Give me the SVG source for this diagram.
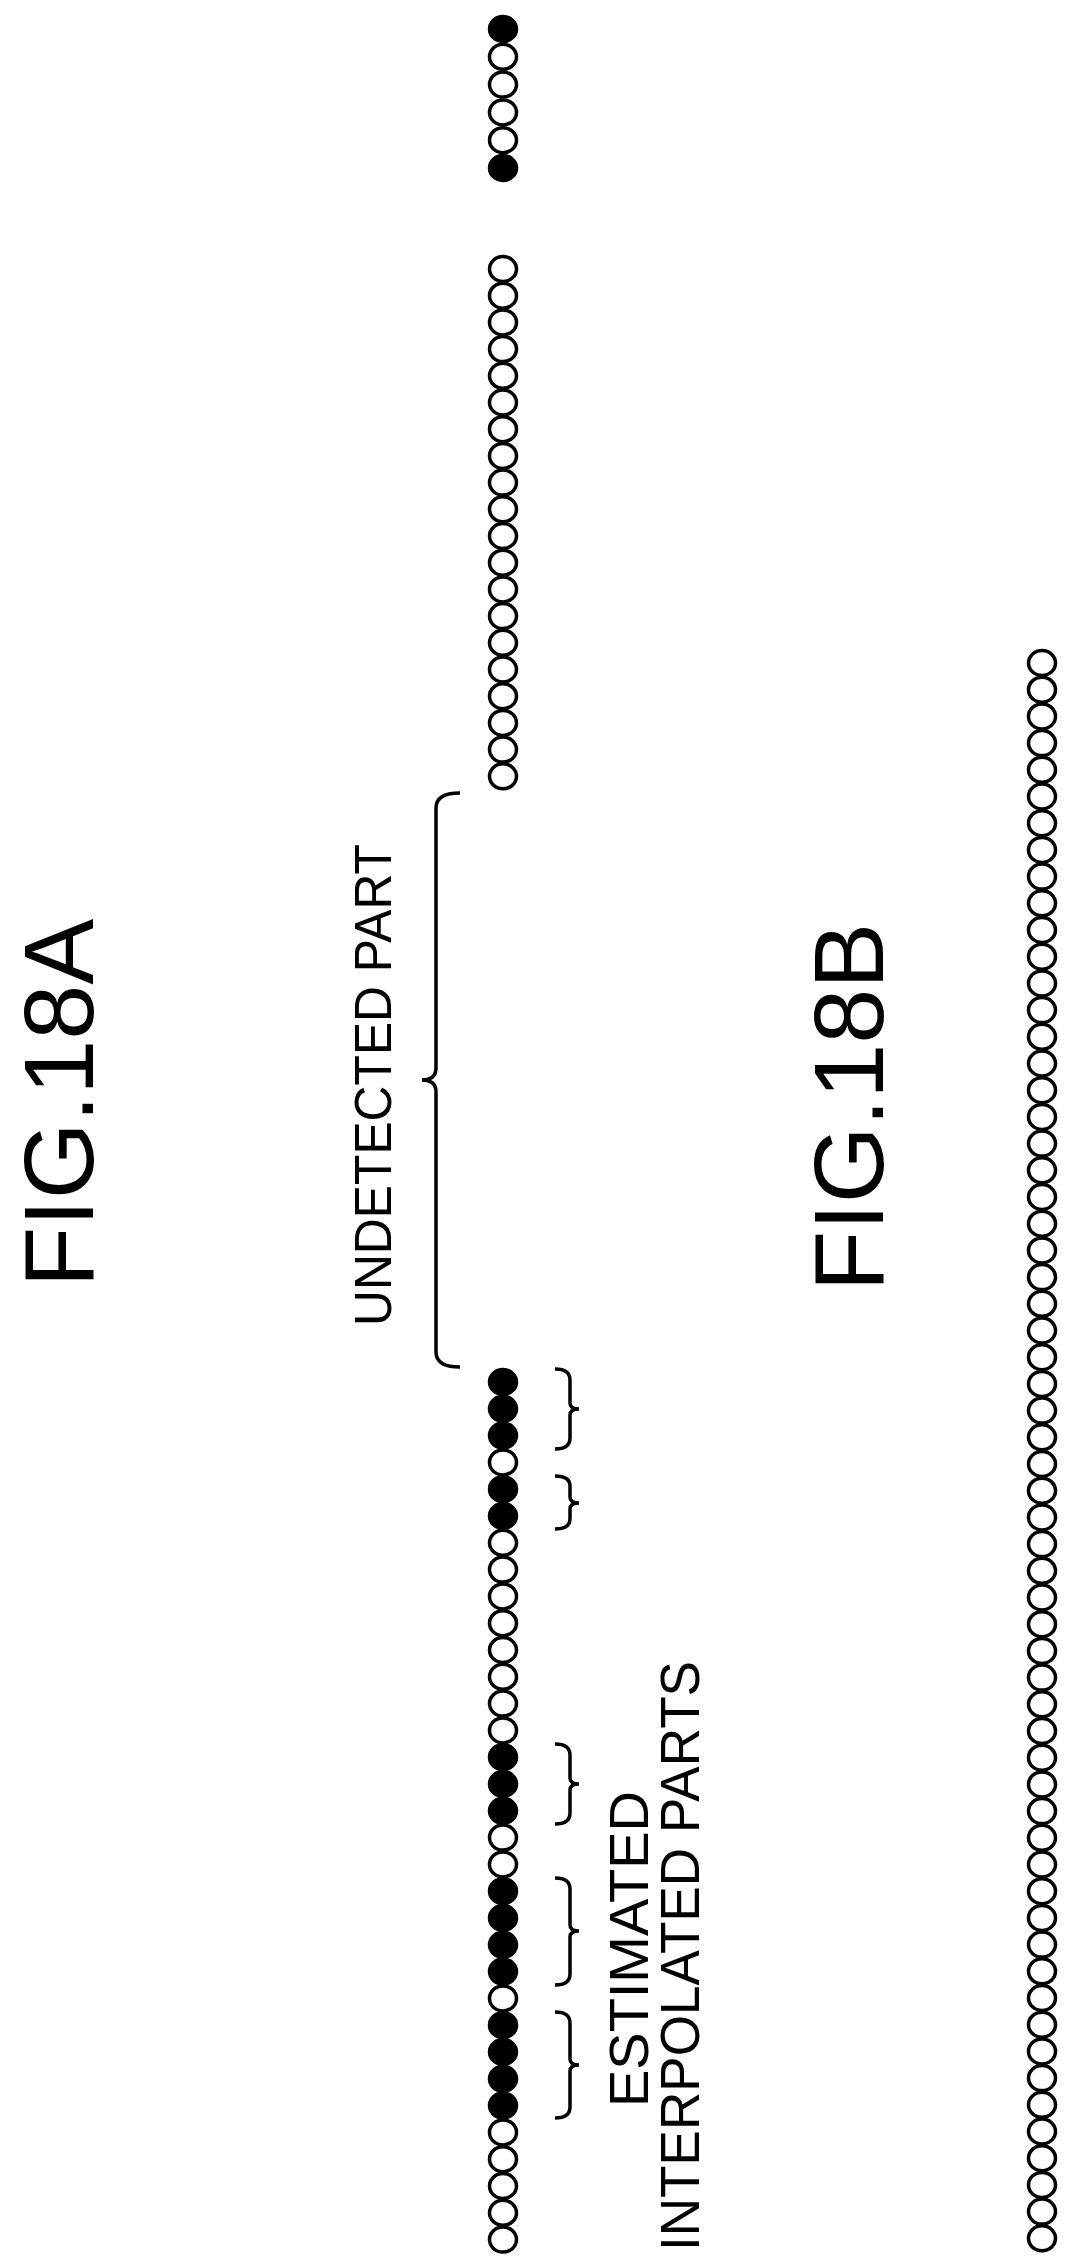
<svg xmlns="http://www.w3.org/2000/svg" xmlns:xlink="http://www.w3.org/1999/xlink" width="1078" height="2257" viewBox="0 0 1078 2257">
<style>
.o{fill:#fff;stroke:#000;stroke-width:3.5}
.f{fill:#000;stroke:#000;stroke-width:3.5}
.br{fill:none;stroke:#000;stroke-width:3.5}
text{font-family:"Liberation Sans",Arial,sans-serif;fill:#000}
</style>
<defs>
<ellipse id="oc" rx="13.5" ry="12.5" class="o"/>
<ellipse id="fc" rx="13.5" ry="12.5" class="f"/>
<g id="ten">
<use xlink:href="#oc" y="0"/><use xlink:href="#oc" y="26.7"/><use xlink:href="#oc" y="53.4"/><use xlink:href="#oc" y="80.1"/><use xlink:href="#oc" y="106.8"/><use xlink:href="#oc" y="133.5"/><use xlink:href="#oc" y="160.2"/><use xlink:href="#oc" y="186.9"/><use xlink:href="#oc" y="213.6"/><use xlink:href="#oc" y="240.3"/>
</g>
</defs>
<rect width="1078" height="2257" fill="#fff"/>
<g id="labels">
<text transform="translate(93,1103) rotate(-90)" text-anchor="middle" font-size="99">FIG.18A</text>
<text transform="translate(883,1107) rotate(-90)" text-anchor="middle" font-size="99">FIG.18B</text>
<text transform="translate(391,1085) rotate(-90)" text-anchor="middle" font-size="52" textLength="482" lengthAdjust="spacingAndGlyphs">UNDETECTED PART</text>
<text transform="translate(648,1949) rotate(-90)" text-anchor="middle" font-size="55" textLength="316" lengthAdjust="spacingAndGlyphs">ESTIMATED</text>
<text transform="translate(699,1956) rotate(-90)" text-anchor="middle" font-size="55" textLength="590" lengthAdjust="spacingAndGlyphs">INTERPOLATED PARTS</text>
</g>
<g id="col-a-top" transform="translate(503,0)">
<use xlink:href="#fc" y="29"/><use xlink:href="#oc" y="56.8"/><use xlink:href="#oc" y="84.6"/><use xlink:href="#oc" y="112.4"/><use xlink:href="#oc" y="140.2"/><use xlink:href="#fc" y="168"/>
</g>
<g id="col-a-mid" transform="translate(503,0)">
<use xlink:href="#ten" y="269"/><use xlink:href="#ten" y="536"/>
</g>
<g id="col-a-bottom" transform="translate(503,0)">
<use xlink:href="#fc" y="1382"/><use xlink:href="#fc" y="1408.8"/><use xlink:href="#fc" y="1435.6"/><use xlink:href="#oc" y="1462.4"/><use xlink:href="#fc" y="1489.2"/><use xlink:href="#fc" y="1516"/>
<use xlink:href="#oc" y="1542.8"/><use xlink:href="#oc" y="1569.6"/><use xlink:href="#oc" y="1596.4"/><use xlink:href="#oc" y="1623.2"/><use xlink:href="#oc" y="1650"/><use xlink:href="#oc" y="1676.8"/><use xlink:href="#oc" y="1703.6"/><use xlink:href="#oc" y="1730.4"/>
<use xlink:href="#fc" y="1757.2"/><use xlink:href="#fc" y="1784"/><use xlink:href="#fc" y="1810.8"/>
<use xlink:href="#oc" y="1837.6"/><use xlink:href="#oc" y="1864.4"/>
<use xlink:href="#fc" y="1891.2"/><use xlink:href="#fc" y="1918"/><use xlink:href="#fc" y="1944.8"/><use xlink:href="#fc" y="1971.6"/>
<use xlink:href="#oc" y="1998.4"/>
<use xlink:href="#fc" y="2025.2"/><use xlink:href="#fc" y="2052"/><use xlink:href="#fc" y="2078.8"/><use xlink:href="#fc" y="2105.6"/>
<use xlink:href="#oc" y="2132.4"/><use xlink:href="#oc" y="2159.2"/><use xlink:href="#oc" y="2186"/><use xlink:href="#oc" y="2212.8"/><use xlink:href="#oc" y="2239.6"/>
</g>
<g id="col-b" transform="translate(1042,0)">
<use xlink:href="#ten" y="663"/><use xlink:href="#ten" y="930"/><use xlink:href="#ten" y="1197"/><use xlink:href="#ten" y="1464"/><use xlink:href="#ten" y="1731"/><use xlink:href="#ten" y="1998"/>
</g>
<g id="braces">
<path class="br" d="M460,793 Q436,793 436,808 L436,1068 Q436,1080 422,1080 Q436,1080 436,1092 L436,1352 Q436,1367 460,1367"/>
<path class="br" d="M555,1369 Q570,1369 570,1380 L570,1403 Q570,1409 579,1409 Q570,1409 570,1415 L570,1438 Q570,1449 555,1449"/>
<path class="br" d="M555,1476 Q570,1476 570,1486 L570,1497 Q570,1503 579,1503 Q570,1503 570,1509 L570,1519 Q570,1529 555,1529"/>
<path class="br" d="M555,1744 Q570,1744 570,1755 L570,1778 Q570,1784 579,1784 Q570,1784 570,1790 L570,1813 Q570,1824 555,1824"/>
<path class="br" d="M555,1878 Q570,1878 570,1889 L570,1925 Q570,1931 579,1931 Q570,1931 570,1937 L570,1974 Q570,1985 555,1985"/>
<path class="br" d="M555,2012 Q570,2012 570,2023 L570,2059 Q570,2065 579,2065 Q570,2065 570,2071 L570,2107 Q570,2118 555,2118"/>
</g>
</svg>
